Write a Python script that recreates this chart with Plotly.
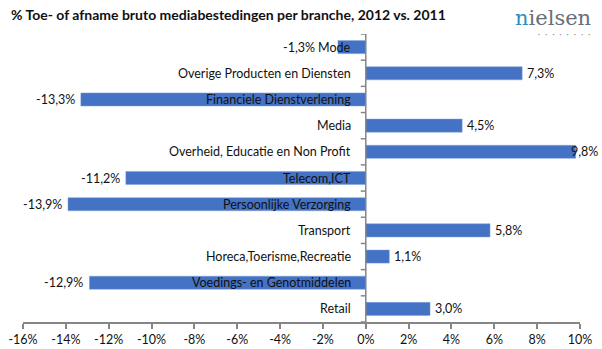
import plotly.graph_objects as go

categories = ["Mode", "Overige Producten en Diensten", "Financiele Dienstverlening", "Media",
              "Overheid, Educatie en Non Profit", "Telecom,ICT", "Persoonlijke Verzorging",
              "Transport", "Horeca,Toerisme,Recreatie", "Voedings- en Genotmiddelen", "Retail"]
values = [-1.3, 7.3, -13.3, 4.5, 9.8, -11.2, -13.9, 5.8, 1.1, -12.9, 3.0]
tick_vals = [-16, -14, -12, -10, -8, -6, -4, -2, 0, 2, 4, 6, 8, 10]
tick_text = ["-16%", "-14%", "-12%", "-10%", "-8%", "-6%", "-4%", "-2%", "0%", "2%", "4%", "6%", "8%", "10%"]
title = "% Toe- of afname bruto mediabestedingen per branche, 2012 vs. 2011"

FONT = "Lato, Open Sans, sans-serif"
BLUE = "#4472C4"
GRAY = "#868686"
TXT = "#111111"

W, H = 602, 349
ML, MR, MT, MB = 23, 22, 34, 27
pw, ph = W - ML - MR, H - MT - MB
XMIN, XMAX = tick_vals[0], tick_vals[-1]

labels = [f"{v:.1f}".replace(".", ",") + "%" for v in values]


def text_w(s, size=12.5):
    # rough width estimate for label collision handling
    return len(s) * size * 0.62


def to_px(v):
    return ML + (v - XMIN) / (XMAX - XMIN) * pw


fig = go.Figure(go.Bar(
    x=values, y=categories, orientation="h",
    marker=dict(color=BLUE, line=dict(color="#7EA0DA", width=0.5)),
    width=0.5, hoverinfo="skip",
))

CAT_SHIFT = -13
ann = []
for c, v, t in zip(categories, values, labels):
    ann.append(dict(x=0, y=c, xref="x", yref="y", text=c, showarrow=False,
                    xanchor="right", xshift=CAT_SHIFT, font=dict(family=FONT, size=12.5, color=TXT)))
    if v >= 0:
        end = to_px(v) + 3 + text_w(t) * 0.85
        if end > W - 2:
            ann.append(dict(x=(W - 2 - ML) / pw, y=c, xref="paper", yref="y", text=t, showarrow=False,
                            xanchor="right", font=dict(family=FONT, size=12.5, color=TXT)))
        else:
            ann.append(dict(x=v, y=c, xref="x", yref="y", text=t, showarrow=False,
                            xanchor="left", xshift=3, font=dict(family=FONT, size=12.5, color=TXT)))
    else:
        cat_left = to_px(0) + CAT_SHIFT - text_w(c)
        bar_px = to_px(v) - 4
        if bar_px > cat_left - 3:
            ann.append(dict(x=0, y=c, xref="x", yref="y", text=t, showarrow=False,
                            xanchor="right", xshift=CAT_SHIFT - text_w(c) - 5,
                            font=dict(family=FONT, size=12.5, color=TXT)))
        else:
            ann.append(dict(x=v, y=c, xref="x", yref="y", text=t, showarrow=False,
                            xanchor="right", xshift=-4, font=dict(family=FONT, size=12.5, color=TXT)))

px_ann = [
    dict(x=9, y=15, text=f"<b>{title}</b>", showarrow=False, xanchor="left", yanchor="middle",
         font=dict(family=FONT, size=14, color=TXT)),
    dict(x=593, y=18, text="<span style='color:#2A8FC0'>n</span>ielsen", showarrow=False,
         xanchor="right", yanchor="middle",
         font=dict(family="DejaVu Serif, Liberation Serif, serif", size=21, color="#66707A")),
    dict(x=592, y=34, text="·   ·   ·   ·   ·   ·   ·   ·", showarrow=False, xanchor="right", yanchor="middle",
         font=dict(family=FONT, size=7, color="#6A6A6A")),
]
for a in px_ann:
    a["xref"] = "paper"; a["yref"] = "paper"
    a["x"] = (a["x"] - ML) / pw
    a["y"] = 1 - (a["y"] - MT) / ph
ann += px_ann

shapes = [dict(type="line", xref="x", yref="paper", x0=0, x1=0, y0=0, y1=1,
               line=dict(color=GRAY, width=1.5))]
for i in range(len(categories) + 1):
    shapes.append(dict(type="line", xref="x", yref="y", xsizemode="pixel", xanchor=0,
                       x0=-5, x1=0, y0=i - 0.5, y1=i - 0.5, line=dict(color=GRAY, width=1.5)))

fig.update_layout(
    width=W, height=H, margin=dict(l=ML, r=MR, t=MT, b=MB, autoexpand=False),
    paper_bgcolor="white", plot_bgcolor="white", showlegend=False,
    annotations=ann, shapes=shapes,
    xaxis=dict(range=[XMIN, XMAX], tickvals=tick_vals, ticktext=tick_text, showgrid=False,
               zeroline=False, showline=True, linecolor=GRAY, linewidth=1.5,
               ticks="outside", ticklen=5, tickcolor=GRAY, tickwidth=1.5, automargin=False,
               tickfont=dict(family=FONT, size=12.5, color=TXT), fixedrange=True),
    yaxis=dict(categoryorder="array", categoryarray=categories,
               showticklabels=False, showgrid=False, zeroline=False, showline=False,
               ticks="", automargin=False, range=[len(categories) - 0.5, -0.5]),
)

fig.write_html("out.html", config={"displayModeBar": False})
